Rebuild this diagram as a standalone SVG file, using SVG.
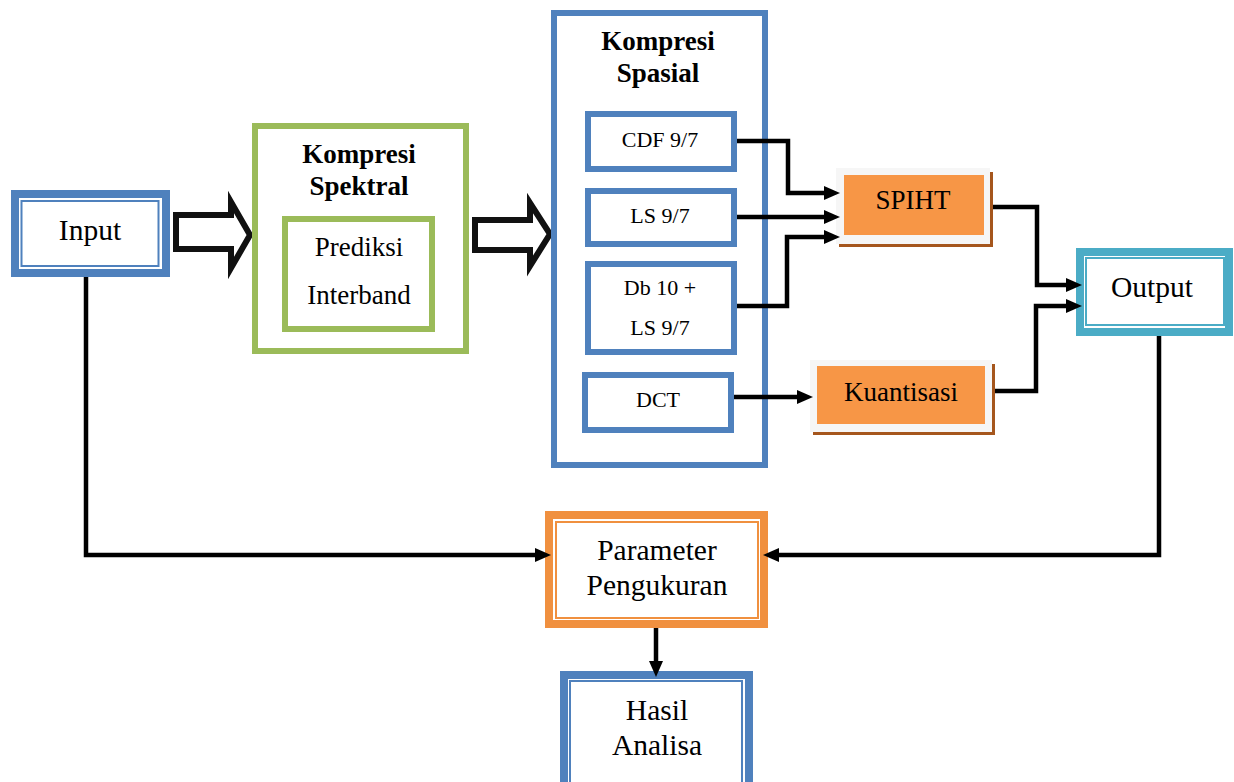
<svg xmlns="http://www.w3.org/2000/svg" width="1234" height="782" viewBox="0 0 1234 782">
<style>
  text { font-family: "Liberation Serif", "Times New Roman", serif; fill: #000; text-anchor: middle; }
  .big { font-size: 29.5px; }
  .mid { font-size: 27px; }
  .bold { font-size: 27px; font-weight: bold; }
  .sm { font-size: 22px; }
  .blue { fill: none; stroke: #4f81bd; }
  .green { fill: none; stroke: #9bbb59; stroke-width: 6; }
  .conn { fill: none; stroke: #000; stroke-width: 4.5; }
  .hollow { fill: #fff; stroke: #111; stroke-width: 6; stroke-linejoin: miter; }
</style>
<defs>
  <marker id="ah" markerUnits="userSpaceOnUse" markerWidth="16" markerHeight="14" viewBox="0 0 16 14" refX="1" refY="7" orient="auto">
    <path d="M0,0 L16,7 L0,14 Z" fill="#000"/>
  </marker>
</defs>
<rect width="1234" height="782" fill="#fff"/>

<g id="input">
  <rect x="15" y="194" width="151" height="79" fill="#fff" stroke="#4f81bd" stroke-width="8"/>
  <rect x="21.5" y="201" width="137" height="65" fill="none" stroke="#4f81bd" stroke-width="2"/>
  <text class="big" x="90" y="240">Input</text>
</g>

<g id="arrow1">
  <path class="hollow" d="M176,215 L231,215 L231,202 L250,235 L231,268 L231,249 L176,249 Z"/>
</g>

<g id="kompresi-spektral">
  <rect class="green" x="255" y="126" width="211" height="225" fill="#fff"/>
  <text class="bold" x="359" y="163">Kompresi</text>
  <text class="bold" x="359" y="195">Spektral</text>
  <g id="prediksi">
    <rect class="green" x="285" y="219" width="147" height="110"/>
    <text class="mid" x="359" y="256">Prediksi</text>
    <text class="mid" x="359" y="304">Interband</text>
  </g>
</g>

<g id="arrow2">
  <path class="hollow" d="M475,220 L530,220 L530,203 L550,234 L530,266 L530,250 L475,250 Z"/>
</g>

<g id="kompresi-spasial">
  <rect class="blue" x="554" y="13" width="211" height="452" stroke-width="6"/>
  <text class="bold" x="658" y="50">Kompresi</text>
  <text class="bold" x="658" y="82">Spasial</text>
  <g id="cdf">
    <rect class="blue" x="588" y="114" width="146" height="55" stroke-width="6"/>
    <text class="sm" x="660" y="147">CDF 9/7</text>
  </g>
  <g id="ls">
    <rect class="blue" x="588" y="191" width="146" height="53" stroke-width="6"/>
    <text class="sm" x="660" y="223">LS 9/7</text>
  </g>
  <g id="db">
    <rect class="blue" x="588" y="264" width="146" height="88" stroke-width="6"/>
    <text class="sm" x="660" y="295">Db 10 +</text>
    <text class="sm" x="660" y="335">LS 9/7</text>
  </g>
  <g id="dct">
    <rect class="blue" x="585" y="375" width="146" height="55" stroke-width="6"/>
    <text class="sm" x="658" y="407">DCT</text>
  </g>
</g>

<g id="spiht">
  <rect x="839" y="172" width="154" height="75" fill="#a5561d"/>
  <rect x="836" y="168" width="154" height="76" fill="#f6f6f6"/>
  <rect x="844" y="175" width="140" height="60" fill="#f79646"/>
  <text class="mid" x="913" y="209">SPIHT</text>
</g>

<g id="kuantisasi">
  <rect x="813" y="364" width="182" height="71" fill="#a5561d"/>
  <rect x="810" y="360" width="182" height="72" fill="#f6f6f6"/>
  <rect x="817" y="366" width="168" height="58" fill="#f79646"/>
  <text class="mid" x="901" y="401">Kuantisasi</text>
</g>

<g id="output">
  <rect x="1080" y="252" width="149" height="80" fill="#fff" stroke="#4bacc6" stroke-width="8"/>
  <rect x="1086" y="258" width="138" height="67" fill="none" stroke="#4bacc6" stroke-width="2"/>
  <text class="big" x="1152" y="297">Output</text>
</g>

<g id="parameter">
  <rect x="549" y="515" width="215" height="109" fill="#fff" stroke="#f0903f" stroke-width="8"/>
  <rect x="556" y="522" width="202" height="96" fill="none" stroke="#f0903f" stroke-width="2"/>
  <text class="big" x="657" y="560">Parameter</text>
  <text class="big" x="657" y="595">Pengukuran</text>
</g>

<g id="hasil">
  <rect x="564" y="675" width="185" height="130" fill="#fff" stroke="#4f81bd" stroke-width="8"/>
  <rect x="570" y="681" width="172" height="120" fill="none" stroke="#4f81bd" stroke-width="2"/>
  <text class="big" x="657" y="720">Hasil</text>
  <text class="big" x="657" y="755">Analisa</text>
</g>

<g id="connectors">
  <path class="conn" d="M737,141 H788 V193 H825" marker-end="url(#ah)"/>
  <path class="conn" d="M737,217 H825" marker-end="url(#ah)"/>
  <path class="conn" d="M737,306 H787 V237 H825" marker-end="url(#ah)"/>
  <path class="conn" d="M734,397 H798" marker-end="url(#ah)"/>
  <path class="conn" d="M993,207 H1037 V285 H1067" marker-end="url(#ah)"/>
  <path class="conn" d="M995,391 H1036 V306 H1067" marker-end="url(#ah)"/>
  <path class="conn" d="M86,277 V555 H536" marker-end="url(#ah)"/>
  <path class="conn" d="M1159,336 V555 H778" marker-end="url(#ah)"/>
  <path class="conn" d="M656,628 V662" marker-end="url(#ah)"/>
</g>
</svg>
